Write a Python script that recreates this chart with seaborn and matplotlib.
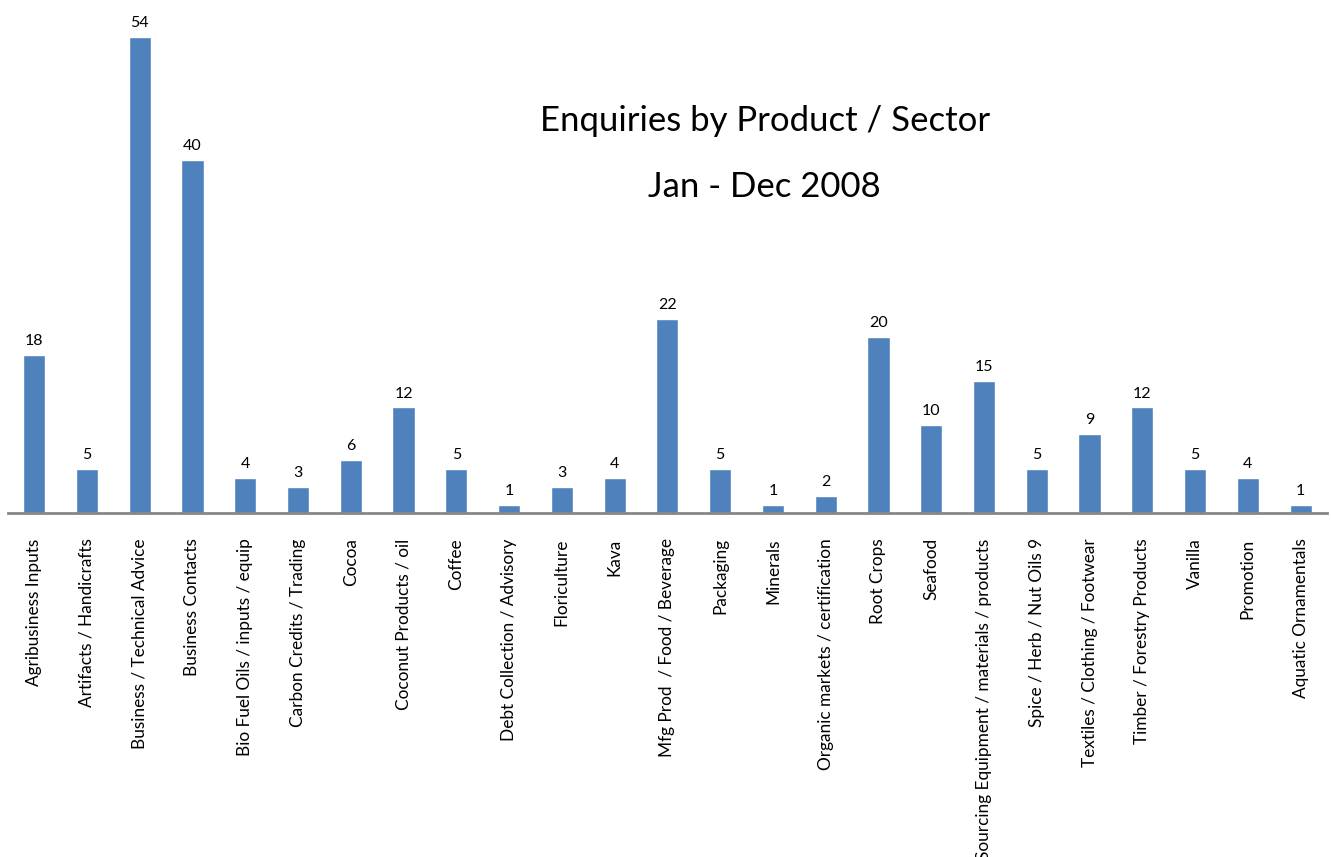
import matplotlib
matplotlib.use("Agg")
import matplotlib.pyplot as plt
import seaborn as sns
import pandas as pd

# data
sectors = ["Agribusiness Inputs", "Artifacts / Handicrafts", "Business / Technical Advice",
           "Business Contacts", "Bio Fuel Oils / inputs / equip", "Carbon Credits / Trading",
           "Cocoa", "Coconut Products / oil", "Coffee", "Debt Collection / Advisory",
           "Floriculture", "Kava", "Mfg Prod  / Food / Beverage", "Packaging", "Minerals",
           "Organic markets / certification", "Root Crops", "Seafood",
           "Sourcing Equipment / materials / products", "Spice / Herb / Nut Oils 9",
           "Textiles / Clothing / Footwear", "Timber / Forestry Products", "Vanilla",
           "Promotion", "Aquatic Ornamentals"]
enquiries = [18, 5, 54, 40, 4, 3, 6, 12, 5, 1, 3, 4, 22, 5, 1, 2, 20, 10, 15, 5, 9, 12, 5, 4, 1]

df = pd.DataFrame({"Sector": sectors, "Enquiries": enquiries})

sns.set_style("white")
plt.rcParams['font.family'] = ['Lato', 'DejaVu Sans']
plt.rcParams['text.color'] = 'black'
plt.rcParams['xtick.color'] = 'black'

fig = plt.figure(figsize=(13.31, 8.57), dpi=100)
ax = fig.add_axes([0.0058, 0.401, 0.9912, 0.556])

sns.barplot(data=df, x="Sector", y="Enquiries", color="#4F81BD", saturation=1,
            width=0.42, ax=ax)

for i, v in enumerate(enquiries):
    ax.annotate(str(v), (i, v), xytext=(0, 5), textcoords="offset points",
                ha="center", va="bottom", fontsize=11.5)

ax.set_xlim(-0.5, len(sectors) - 0.5)
ax.set_ylim(0, 54)
ax.set_xlabel("")
ax.set_ylabel("")
ax.set_yticks([])
ax.tick_params(axis="x", length=0, pad=18, labelsize=12.4)
plt.setp(ax.get_xticklabels(), rotation=90, va="top", ha="center")

for s in ["top", "right", "left"]:
    ax.spines[s].set_visible(False)
ax.spines["bottom"].set_color("#868686")
ax.spines["bottom"].set_linewidth(2)

fig.text(0.575, 0.859, "Enquiries by Product / Sector", ha="center", va="center", fontsize=25)
fig.text(0.574, 0.782, "Jan - Dec 2008", ha="center", va="center", fontsize=25)

fig.savefig("out.png", dpi=100)
